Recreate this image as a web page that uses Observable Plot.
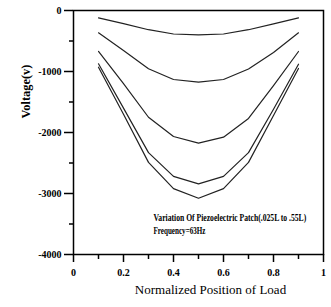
<!DOCTYPE html>
<html>
<head>
<meta charset="utf-8">
<script src="https://cdn.jsdelivr.net/npm/d3@7"></script>
<script src="https://cdn.jsdelivr.net/npm/@observablehq/plot@0.6"></script>
<style>
  html, body { margin: 0; padding: 0; background: white; }
</style>
</head>
<body>
<div id="chart"></div>
<script>
// Normalized load positions
const positions = [0.1, 0.2, 0.3, 0.4, 0.5, 0.6, 0.7, 0.8, 0.9];
// Voltage curves (V), top to bottom
const curve1 = [-120, -215, -315, -385, -400, -385, -315, -220, -120];
const curve2 = [-366, -656, -956, -1131, -1175, -1131, -960, -690, -366];
const curve3 = [-672, -1200, -1750, -2066, -2175, -2077, -1770, -1230, -672];
const curve4 = [-874, -1600, -2330, -2720, -2841, -2720, -2330, -1620, -880];
const curve5 = [-929, -1700, -2490, -2920, -3077, -2920, -2490, -1720, -950];
const seriesNames = ["c1", "c2", "c3", "c4", "c5"];
const seriesValues = [curve1, curve2, curve3, curve4, curve5];

const yMajor = [0, -1000, -2000, -3000, -4000];
const yMinor = [-500, -1500, -2500, -3500];
const xMajor = [0, 0.2, 0.4, 0.6, 0.8, 1];
const xMinor = [0.1, 0.3, 0.5, 0.7, 0.9];
const xTickLabels = ["0", "0.2", "0.4", "0.6", "0.8", "1"];

const yTitle = "Voltage(v)";
const xTitle = "Normalized Position of Load";
const note1 = "Variation Of Piezoelectric Patch(.025L to .55L)";
const note2 = "Frequency=63Hz";

const table = [];
seriesNames.forEach((s, i) => positions.forEach((x, j) => table.push({series: s, x, v: seriesValues[i][j]})));

const chart = Plot.plot({
  width: 331,
  height: 307,
  marginLeft: 73,
  marginRight: 8,
  marginTop: 10,
  marginBottom: 53,
  style: {fontFamily: "Liberation Serif", background: "white", color: "black"},
  x: {domain: [0, 1]},
  y: {domain: [-4000, 0]},
  marks: [
    Plot.frame({stroke: "black", strokeWidth: 1.5}),
    Plot.axisY(yMajor, {tickSize: 9, tickPadding: 3, fontSize: 10, fontWeight: "bold", strokeWidth: 1.5, label: null, tickFormat: d => String(d)}),
    Plot.axisY(yMinor, {tickSize: 4, strokeWidth: 1.5, label: null, tickFormat: () => ""}),
    Plot.axisX(xMajor, {tickSize: 8, tickPadding: 6, fontSize: 10, fontWeight: "bold", strokeWidth: 1.5, label: null, tickFormat: (d, i) => xTickLabels[i]}),
    Plot.axisX(xMinor, {tickSize: 5, strokeWidth: 1.5, label: null, tickFormat: () => ""}),
    Plot.line(table, {x: "x", y: "v", z: "series", stroke: "#222", strokeWidth: 1.2}),
    Plot.text([yTitle], {text: d => d, frameAnchor: "left", rotate: -90, dx: -48, dy: -14, fontSize: 13, fontWeight: "bold"}),
    Plot.text([xTitle], {text: d => d, frameAnchor: "bottom", dx: 12, dy: 39, fontSize: 13}),
    Plot.text([note1], {text: d => d, frameAnchor: "bottom-left", dx: 80, dy: -34, textAnchor: "start", fontSize: 10, fontWeight: "bold"}),
    Plot.text([note2], {text: d => d, frameAnchor: "bottom-left", dx: 80, dy: -21, textAnchor: "start", fontSize: 10, fontWeight: "bold"})
  ]
});

document.getElementById("chart").appendChild(chart);

// Condense the annotation and y title horizontally, like the reference's narrow type
const targetLengths = new Map([[note1, 153], [note2, 52], [yTitle, 54]]);
chart.querySelectorAll("text").forEach(t => {
  const s = t.textContent;
  if (targetLengths.has(s)) {
    const len = t.getComputedTextLength();
    if (len > 0) {
      const k = targetLengths.get(s) / len;
      const tr = t.getAttribute("transform") || "";
      t.setAttribute("transform", (tr + ` scale(${k},1)`).trim());
    }
  }
});
</script>
</body>
</html>
